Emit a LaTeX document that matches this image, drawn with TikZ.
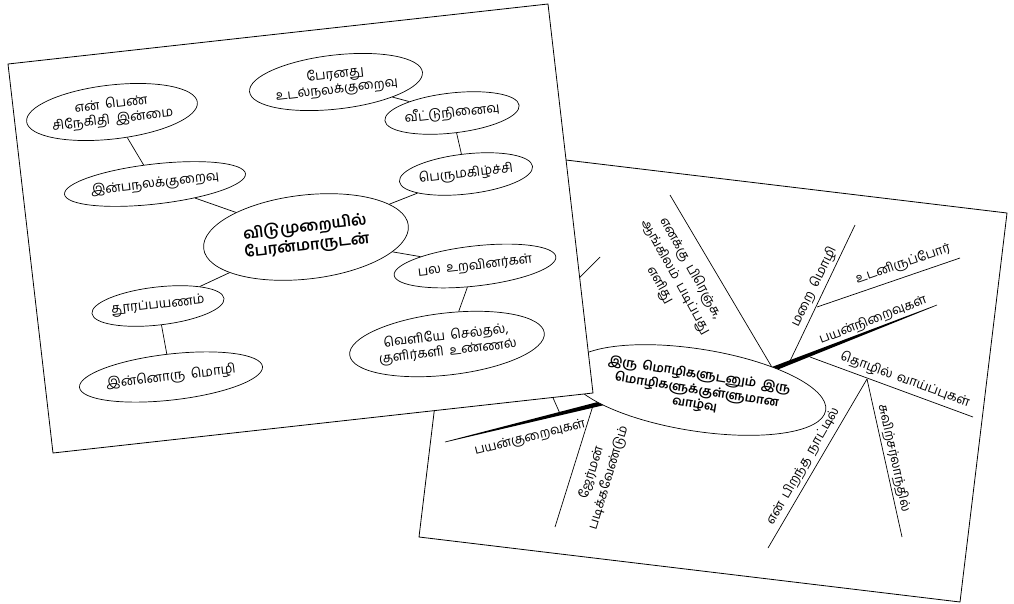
\documentclass[tikz,border=0pt]{standalone}
\usepackage{fontspec}
\setmainfont[Script=Tamil, WordSpace=1.7]{Hind Madurai}
\usetikzlibrary{shapes.geometric,calc}
\begin{document}
\begin{tikzpicture}[x=1pt,y=-1pt,
  card/.style={draw=black, fill=white, line width=0.8pt},
  bub/.style={ellipse, draw, line width=0.7pt, fill=white, inner sep=0pt, align=center, font=\fontsize{13.3}{15.5}\selectfont},
  lrot/.style={rotate=6.5},
  hub/.style={bub, font=\bfseries\fontsize{15.5}{18.5}\selectfont},
  hubr/.style={bub, font=\bfseries\fontsize{12.5}{14.5}\selectfont},
  link/.style={line width=0.7pt},
  lbl/.style={inner sep=1pt, align=center, font=\fontsize{13}{17.5}\selectfont},
]
\useasboundingbox (0,0) rectangle (1014,603);

% ---------- right card ----------
\draw[card] (466,148) -- (1007,213) -- (960,602) -- (419,537) -- cycle;

\coordinate (J1) at (773,369);
\coordinate (E1) at (937,305);
\coordinate (J2) at (603,403);
\coordinate (E2) at (445,442);
\coordinate (A1) at (670,195);
\coordinate (M0) at (790,361);
\coordinate (M1) at (855,225);
\coordinate (U0) at (817,307);
\coordinate (U1) at (960,258);
\coordinate (T0) at (810,357);
\coordinate (T1) at (973,417);
\coordinate (P0) at (867,379);
\coordinate (P1) at (768,548);
\coordinate (S1) at (902,537);
\coordinate (G0) at (593,405.5);
\coordinate (G1) at (555,527);
\coordinate (H0) at (560,413.6);
\coordinate (H1) at (546,382);
\coordinate (K0) at (560,297);
\coordinate (K1) at (600,257);

% tapered main branches
\fill ($(J1)!2.3pt!90:(E1)$) -- ($(E1)!0.3pt!-90:(J1)$) -- ($(E1)!0.3pt!90:(J1)$) -- ($(J1)!2.3pt!-90:(E1)$) -- cycle;
\fill ($(J2)!2.3pt!90:(E2)$) -- ($(E2)!0.3pt!-90:(J2)$) -- ($(E2)!0.3pt!90:(J2)$) -- ($(J2)!2.3pt!-90:(E2)$) -- cycle;

% thin branches
\draw[link] (A1) -- (J1);
\draw[link] (M0) -- (M1);
\draw[link] (U0) -- (U1);
\draw[link] (T0) -- (T1);
\draw[link] (P0) -- (P1);
\draw[link] (P0) -- (S1);
\draw[link] (G0) -- (G1);
\draw[link] (H0) -- (H1);
\draw[link] (K0) -- (K1);

% labels
\node[lbl, rotate=-61] (la) at (675,277) {எனக்கு பிரெஞ்சு,\\ஆங்கிலம் படிப்பது\\எளிது};
\node[lbl, rotate=64] (lm) at (814,287) {மறை மொழி};
\node[lbl, rotate=19] (lu) at (903,264) {உடனிருப்போர்};
\node[lbl, rotate=21] (lp) at (873,320) {பயன்நிறைவுகள்};
\node[lbl, rotate=-20] (lt) at (905,380) {தொழில் வாய்ப்புகள்};
\node[lbl, rotate=60] (lb) at (803,466) {என் பிறந்த நாட்டில்};
\node[lbl, rotate=-77.5] (ls) at (894,458) {சுவிற்சர்லாந்தில்};
\node[lbl, rotate=14] (lk) at (530,438) {பயன்குறைவுகள்};
\node[lbl, rotate=73] (lg) at (600,475) {ஜேர்மன்\\படிக்கவேண்டும்};

\node[hubr, rotate=-9, minimum width=204pt, minimum height=82pt] (c2) at (697,390)
  {இரு மொழிகளுடனும் இரு\\மொழிகளுக்குள்ளுமான\\வாழ்வு};

% ---------- left card ----------
\draw[card] (8,64) -- (548,4) -- (593,393) -- (53,453) -- cycle;

\node[bub, lrot, minimum width=146pt, minimum height=54pt] (n1) at (112,112) {என் பெண்\\சிநேகிதி இன்மை};
\node[bub, lrot, minimum width=162pt, minimum height=40pt] (n2) at (155,184) {இன்பநலக்குறைவு};
\node[bub, lrot, minimum width=174pt, minimum height=54pt] (n3) at (336,82) {பேரனது\\உடல்நலக்குறைவு};
\node[bub, lrot, minimum width=102pt, minimum height=40pt] (n4) at (452,113) {வீட்டுநினைவு};
\node[bub, lrot, minimum width=134pt, minimum height=40pt] (n5) at (466,174) {பெருமகிழ்ச்சி};
\node[hub, lrot, minimum width=206pt, minimum height=84pt] (c1) at (306,237) {விடுமுறையில்\\பேரன்மாருடன்};
\node[bub, lrot, minimum width=148pt, minimum height=40pt] (n7) at (475,266) {பல உறவினர்கள்};
\node[bub, lrot, minimum width=182pt, minimum height=62pt] (n8) at (447,344) {வெளியே செல்தல்,\\குளிர்களி உண்ணல்};
\node[bub, lrot, minimum width=122pt, minimum height=38pt] (n9) at (158,306) {தூரப்பயணம்};
\node[bub, lrot, minimum width=150pt, minimum height=46pt] (n10) at (171,377) {இன்னொரு மொழி};

\draw[link] (n1) -- (n2);
\draw[link] (n2) -- (c1);
\draw[link] (n3) -- (n4);
\draw[link] (n4) -- (n5);
\draw[link] (n5) -- (c1);
\draw[link] (c1) -- (n7);
\draw[link] (n7) -- (n8);
\draw[link] (c1) -- (n9);
\draw[link] (n9) -- (n10);
\end{tikzpicture}
\end{document}
